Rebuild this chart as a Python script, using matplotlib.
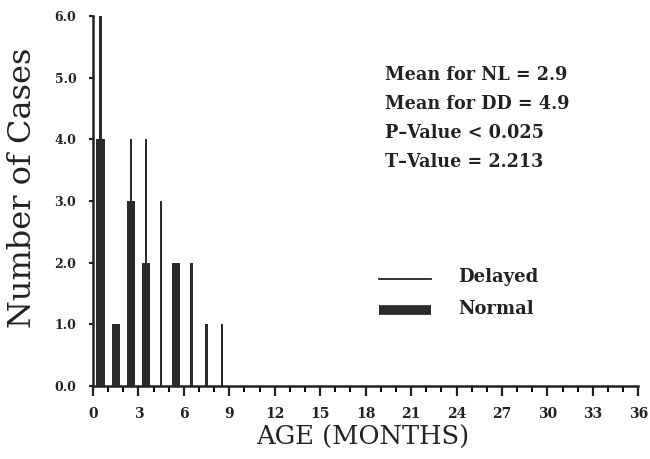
import matplotlib
matplotlib.use("Agg")
import matplotlib.pyplot as plt
from matplotlib.ticker import MultipleLocator

# Histogram data (bins centred at half months)
months = [0.5, 1.5, 2.5, 3.5, 4.5, 5.5, 6.5, 7.5, 8.5]
normal = [4, 1, 3, 2, 0, 2, 0, 0, 0]
delayed = [6, 0, 4, 4, 3, 0, 2, 1, 1]

stats = ["Mean for NL = 2.9", "Mean for DD = 4.9",
         "P\u2013Value < 0.025", "T\u2013Value = 2.213"]

fig = plt.figure(figsize=(6.5, 4.59), dpi=100)
ax = fig.add_axes([0.143, 0.159, 0.839, 0.806])

ax.bar(months, normal, width=0.55, color="#2a2a2a", zorder=3)
ax.bar(months, delayed, width=0.15, color="#2a2a2a", zorder=2)

ax.set_xlim(0, 36)
ax.set_ylim(0, 6)
ax.xaxis.set_major_locator(MultipleLocator(3))
ax.xaxis.set_minor_locator(MultipleLocator(1))
ax.set_yticks(range(7))
ax.set_yticklabels([f"{v:.1f}" for v in range(7)])

for s in ["top", "right"]:
    ax.spines[s].set_visible(False)
for s in ["left", "bottom"]:
    ax.spines[s].set_linewidth(1.8)
    ax.spines[s].set_color("#222222")

ax.tick_params(axis="x", which="major", length=7, width=1.6, direction="out",
               pad=8, labelsize=10, colors="#222222")
ax.tick_params(axis="x", which="minor", length=4, width=1.4, direction="out")
ax.tick_params(axis="y", length=3, width=1.5, pad=9, labelsize=9, colors="#222222")
for lab in ax.get_xticklabels() + ax.get_yticklabels():
    lab.set_fontfamily("DejaVu Serif")
    lab.set_fontweight("bold")

ax.set_xlabel("AGE (MONTHS)", fontsize=18.5, family="DejaVu Serif",
              color="#222222")
ax.xaxis.set_label_coords(0.495, -0.105)
ax.set_ylabel("Number of Cases", fontsize=23, family="DejaVu Serif",
              color="#222222")
ax.yaxis.set_label_coords(-0.10, 0.535)

for i, line in enumerate(stats):
    ax.text(19.3, 5.04 - i * 0.47, line, fontsize=12.7, family="DejaVu Serif",
            fontweight="bold", color="#222222", va="center")

# Legend drawn by hand
ax.plot([18.9, 22.3], [1.74, 1.74], color="#222222", lw=1.3, clip_on=False)
ax.plot([18.9, 22.3], [1.24, 1.24], color="#2a2a2a", lw=7, solid_capstyle="butt",
        clip_on=False)
ax.text(24.1, 1.77, "Delayed", fontsize=13, family="DejaVu Serif",
        fontweight="bold", color="#222222", va="center")
ax.text(24.1, 1.25, "Normal", fontsize=13, family="DejaVu Serif",
        fontweight="bold", color="#222222", va="center")

fig.savefig("out.png", dpi=100)
